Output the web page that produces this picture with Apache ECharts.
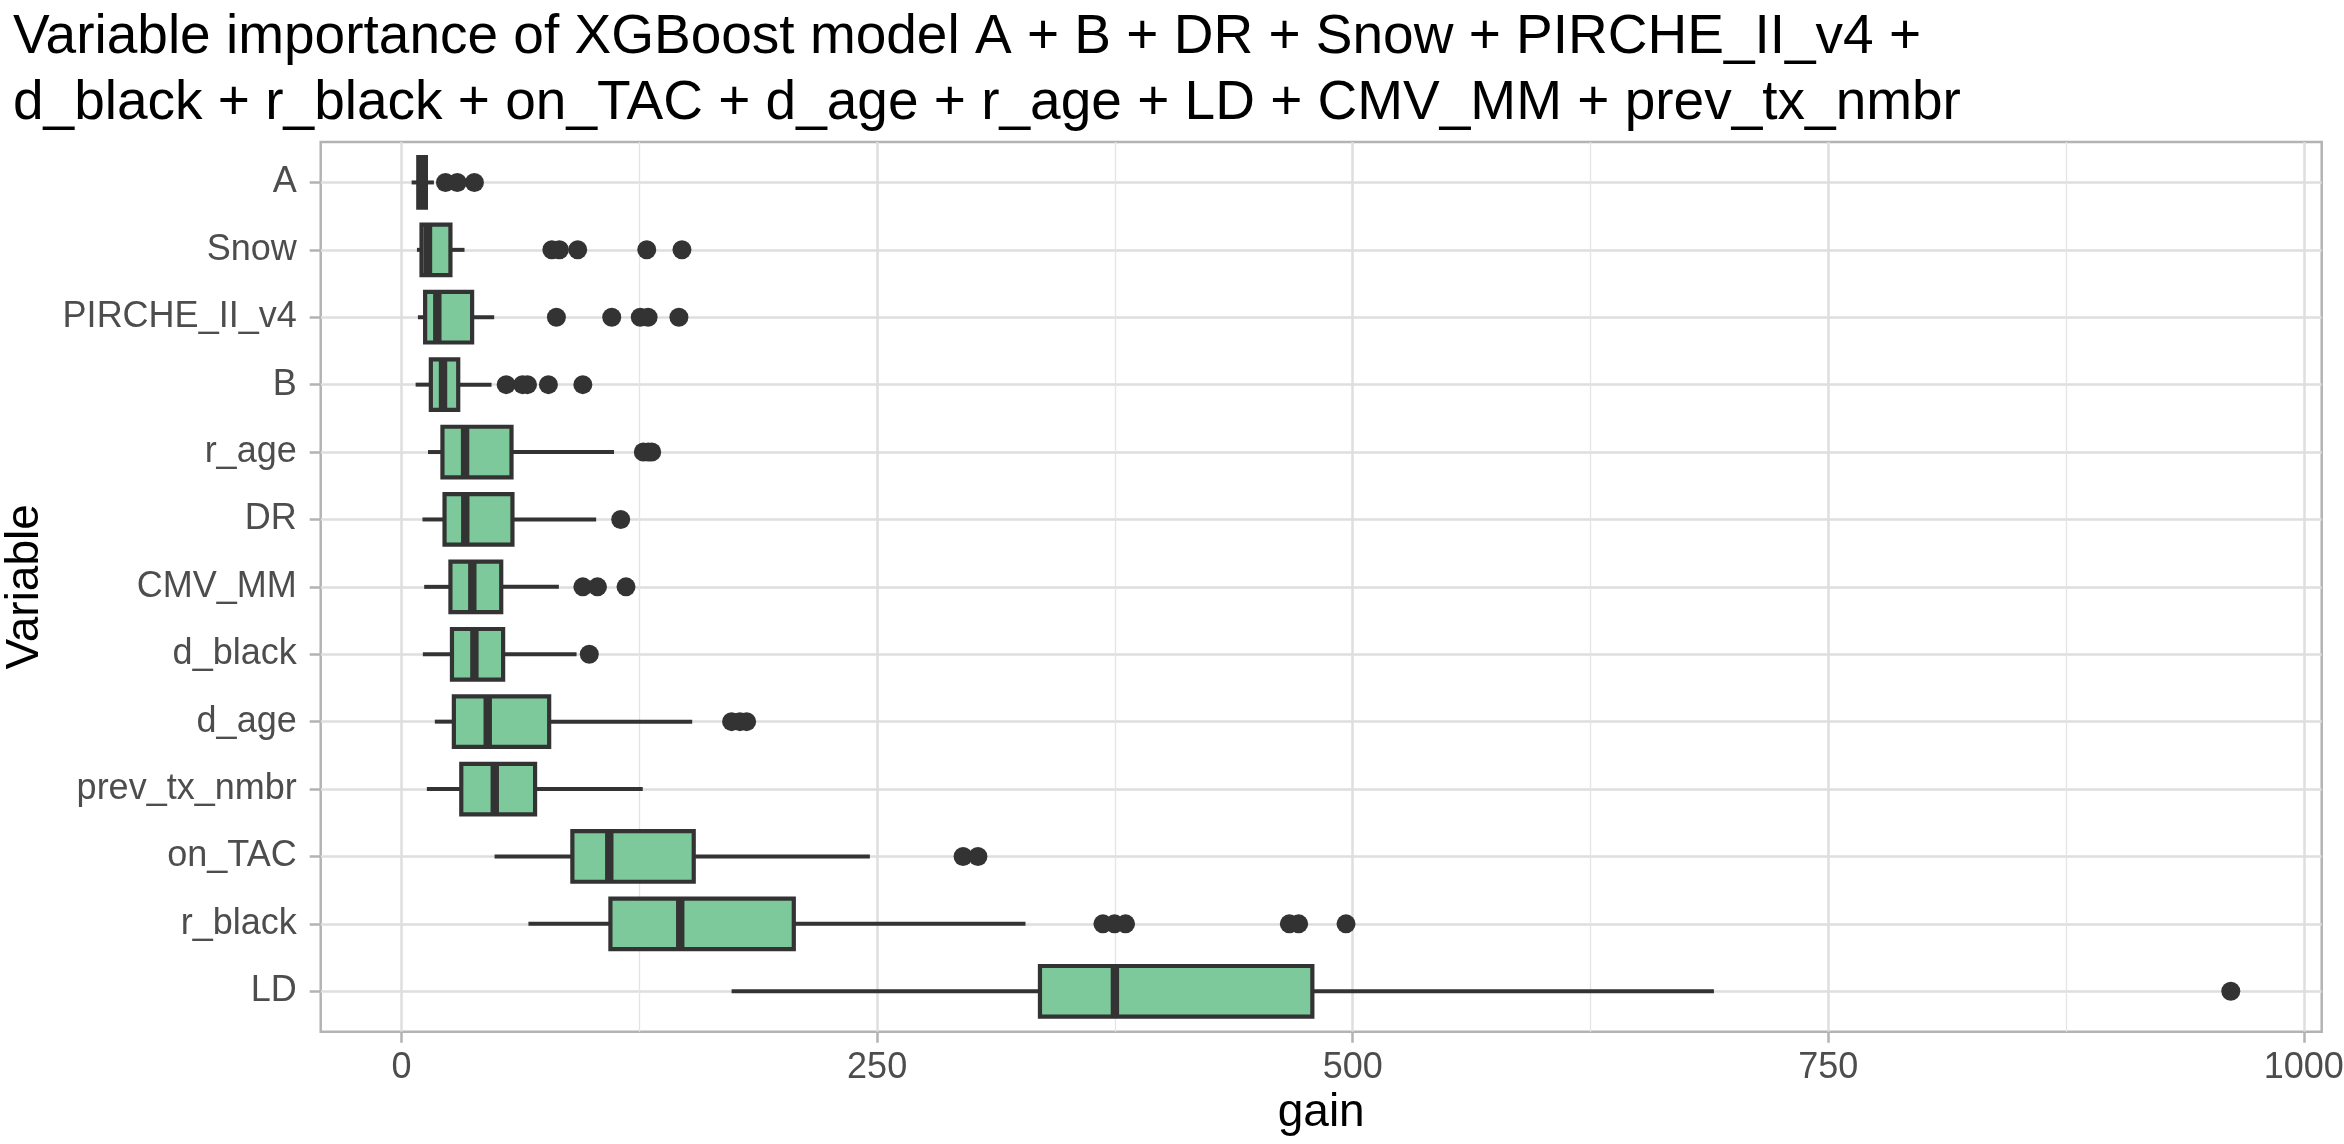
<!DOCTYPE html>
<html>
<head>
<meta charset="utf-8">
<script src="https://cdn.jsdelivr.net/npm/echarts@6/dist/echarts.min.js"></script>
<style>
html,body{margin:0;padding:0;background:#fff;}
#chart{width:2344px;height:1144px;}
</style>
</head>
<body>
<div id="chart"></div>
<script>
// ---- data ----
const categories = ['A','Snow','PIRCHE_II_v4','B','r_age','DR','CMV_MM','d_black','d_age','prev_tx_nmbr','on_TAC','r_black','LD'];
const lowerWhisker = [5.3, 8.1, 8.6, 7.4, 13.9, 11.0, 11.9, 11.2, 17.5, 13.3, 48.9, 66.7, 173.5];
const q1Values     = [8.8, 10.5, 12.4, 15.4, 21.5, 22.6, 25.7, 26.5, 27.5, 31.4, 89.8, 109.8, 335.6];
const medianValues = [10.5, 13.9, 18.8, 21.8, 33.4, 33.5, 37.2, 38.3, 45.3, 49.0, 109.2, 146.5, 375.0];
const q3Values     = [12.8, 25.7, 37.1, 29.8, 57.8, 58.3, 52.4, 53.4, 77.6, 70.2, 153.6, 206.2, 478.8];
const upperWhisker = [17.0, 33.1, 48.7, 47.3, 111.7, 102.3, 82.7, 92.0, 152.8, 126.8, 246.2, 328.0, 689.9];
const outlierValues = [
  [23.1, 29.3, 38.3],
  [79.0, 83.0, 92.6, 128.9, 147.4],
  [81.4, 110.5, 125.5, 129.6, 145.8],
  [55.0, 63.6, 66.2, 77.2, 95.3],
  [127.1, 129.7, 131.5],
  [115.2],
  [95.3, 103.0, 118.0],
  [98.7],
  [173.5, 177.9, 181.4],
  [],
  [295.2, 303.0],
  [368.7, 374.8, 380.6, 466.7, 471.6, 496.5],
  [961.6]
];
const majorTicks = [0, 250, 500, 750, 1000];
const minorTicks = [125, 375, 625, 875];
const titleText = 'Variable importance of XGBoost model A + B + DR + Snow + PIRCHE_II_v4 +\nd_black + r_black + on_TAC + d_age + r_age + LD + CMV_MM + prev_tx_nmbr';

// ---- build ----
const boxData = categories.map((c, i) => [i, lowerWhisker[i], q1Values[i], medianValues[i], q3Values[i], upperWhisker[i]]);
const outlierData = [];
outlierValues.forEach((arr, i) => arr.forEach(v => outlierData.push([v, i])));
const catIdx = categories.map((c, i) => i);

const FONT = '"Liberation Sans", Arial, Helvetica, sans-serif';
const INK = '#333333';
const FILL = '#7DC99B';

const chart = echarts.init(document.getElementById('chart'), null, {renderer: 'canvas'});
chart.setOption({
  backgroundColor: '#ffffff',
  animation: false,
  title: {
    text: titleText,
    left: 8, top: 0,
    textStyle: {fontFamily: FONT, fontSize: 55, fontWeight: 'normal', color: '#000', lineHeight: 66}
  },
  grid: {
    left: 320.7, right: 22.3, top: 142, bottom: 112.3,
    show: true, borderColor: '#B3B3B3', borderWidth: 2.5, backgroundColor: 'transparent',
    containLabel: false, outerBoundsMode: 'none'
  },
  xAxis: [{
    type: 'value', min: -42.5, max: 1009.4, position: 'bottom',
    name: 'gain', nameLocation: 'middle', nameGap: 56,
    nameTextStyle: {fontFamily: FONT, fontSize: 46, color: '#000'},
    axisLine: {show: false, onZero: false},
    axisTick: {show: true, customValues: majorTicks, length: 11, lineStyle: {color: '#B3B3B3', width: 2.5}},
    axisLabel: {customValues: majorTicks, margin: 18, fontFamily: FONT, fontSize: 36, color: '#4D4D4D',
      formatter: v => String(v)},
    splitLine: {show: true, lineStyle: {color: '#DEDEDE', width: 2.5}}
  }, {
    type: 'value', min: -42.5, max: 1009.4, gridIndex: 0, position: 'bottom',
    axisLine: {show: false, onZero: false},
    axisTick: {show: false, customValues: minorTicks},
    axisLabel: {show: false, customValues: minorTicks},
    splitLine: {show: true, lineStyle: {color: '#E4E4E4', width: 1.3}}
  }],
  yAxis: {
    type: 'value', min: -0.6, max: 12.6, inverse: true, position: 'left',
    name: 'Variable', nameLocation: 'middle', nameGap: 272, nameRotate: 90,
    nameTextStyle: {fontFamily: FONT, fontSize: 46, color: '#000'},
    axisLine: {show: false, onZero: false},
    axisTick: {show: true, customValues: catIdx, length: 11, lineStyle: {color: '#B3B3B3', width: 2.5}},
    axisLabel: {customValues: catIdx, margin: 24, fontFamily: FONT, fontSize: 36, color: '#4D4D4D',
      formatter: v => categories[Math.round(v)]},
    splitLine: {show: true, lineStyle: {color: '#DEDEDE', width: 2.5}}
  },
  series: [{
    type: 'custom',
    xAxisIndex: 0, yAxisIndex: 0,
    data: boxData,
    encode: {x: [1, 2, 3, 4, 5], y: 0},
    renderItem: function (params, api) {
      const yi = api.value(0);
      const lw = api.coord([api.value(1), yi]);
      const q1 = api.coord([api.value(2), yi]);
      const md = api.coord([api.value(3), yi]);
      const q3 = api.coord([api.value(4), yi]);
      const uw = api.coord([api.value(5), yi]);
      const half = Math.abs(api.size([0, 1])[1]) * 0.375;
      const cy = q1[1];
      return {
        type: 'group',
        children: [
          {type: 'line', shape: {x1: lw[0], y1: cy, x2: q1[0], y2: cy}, style: {stroke: INK, lineWidth: 4}},
          {type: 'line', shape: {x1: q3[0], y1: cy, x2: uw[0], y2: cy}, style: {stroke: INK, lineWidth: 4}},
          {type: 'rect', shape: {x: q1[0], y: cy - half, width: q3[0] - q1[0], height: 2 * half},
            style: {fill: FILL, stroke: INK, lineWidth: 4.2}},
          {type: 'line', shape: {x1: md[0], y1: cy - half, x2: md[0], y2: cy + half}, style: {stroke: INK, lineWidth: 8.4}}
        ]
      };
    }
  }, {
    type: 'scatter',
    xAxisIndex: 0, yAxisIndex: 0,
    data: outlierData,
    symbol: 'circle', symbolSize: 19,
    itemStyle: {color: INK, opacity: 1}
  }]
});
</script>
</body>
</html>
